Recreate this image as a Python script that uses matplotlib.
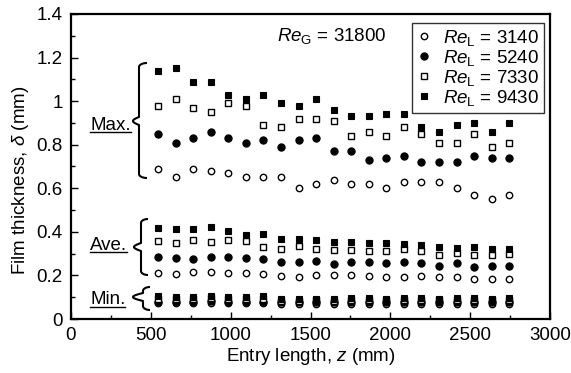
import numpy as np
import matplotlib
matplotlib.use("Agg")
import matplotlib.pyplot as plt
from matplotlib.ticker import MultipleLocator, FuncFormatter
from matplotlib.lines import Line2D

plt.rcParams['font.family'] = ['Liberation Sans', 'DejaVu Sans']
plt.rcParams['mathtext.fontset'] = 'custom'
plt.rcParams['mathtext.rm'] = 'Liberation Sans'
plt.rcParams['mathtext.it'] = 'Liberation Sans:italic'
plt.rcParams['mathtext.bf'] = 'Liberation Sans:bold'

FS = 13.5

# ---- data ----
z = [545, 655, 765, 875, 985, 1095, 1205, 1315, 1425, 1535, 1645,
     1755, 1865, 1975, 2085, 2195, 2305, 2415, 2525, 2635, 2745]

re_labels = ["3140", "5240", "7330", "9430"]

max_3140 = [0.69, 0.65, 0.69, 0.68, 0.67, 0.65, 0.65, 0.65, 0.60, 0.62, 0.64,
            0.62, 0.62, 0.60, 0.63, 0.63, 0.63, 0.60, 0.57, 0.55, 0.57]
max_5240 = [0.85, 0.81, 0.83, 0.86, 0.83, 0.81, 0.82, 0.79, 0.82, 0.83, 0.77,
            0.77, 0.73, 0.74, 0.75, 0.72, 0.72, 0.72, 0.75, 0.74, 0.74]
max_7330 = [0.98, 1.01, 0.97, 0.95, 0.99, 0.98, 0.89, 0.88, 0.92, 0.92, 0.91,
            0.84, 0.86, 0.84, 0.88, 0.85, 0.81, 0.81, 0.85, 0.79, 0.81]
max_9430 = [1.14, 1.15, 1.09, 1.09, 1.03, 1.01, 1.03, 0.99, 0.98, 1.01, 0.96,
            0.93, 0.93, 0.94, 0.94, 0.88, 0.86, 0.89, 0.90, 0.86, 0.90]

ave_3140 = [0.213, 0.205, 0.217, 0.216, 0.210, 0.210, 0.205, 0.197, 0.193, 0.202, 0.202,
            0.201, 0.197, 0.191, 0.194, 0.199, 0.191, 0.194, 0.184, 0.185, 0.185]
ave_5240 = [0.283, 0.279, 0.274, 0.285, 0.285, 0.279, 0.274, 0.263, 0.263, 0.266, 0.254,
            0.262, 0.262, 0.256, 0.262, 0.256, 0.245, 0.256, 0.237, 0.245, 0.245]
ave_7330 = [0.358, 0.347, 0.363, 0.352, 0.363, 0.359, 0.330, 0.320, 0.336, 0.320, 0.315,
            0.317, 0.312, 0.312, 0.321, 0.312, 0.294, 0.304, 0.294, 0.292, 0.298]
ave_9430 = [0.416, 0.413, 0.413, 0.424, 0.404, 0.386, 0.392, 0.367, 0.369, 0.363, 0.352,
            0.352, 0.347, 0.347, 0.344, 0.340, 0.332, 0.324, 0.329, 0.320, 0.323]

min_3140 = [0.072, 0.072, 0.072, 0.074, 0.072, 0.072, 0.072, 0.070, 0.070, 0.071, 0.070,
            0.071, 0.071, 0.070, 0.071, 0.070, 0.070, 0.071, 0.071, 0.070, 0.071]
min_5240 = [0.080, 0.080, 0.080, 0.082, 0.080, 0.080, 0.080, 0.077, 0.077, 0.078, 0.077,
            0.078, 0.078, 0.077, 0.078, 0.077, 0.077, 0.078, 0.078, 0.077, 0.078]
min_7330 = [0.092, 0.092, 0.092, 0.095, 0.090, 0.090, 0.092, 0.084, 0.084, 0.085, 0.083,
            0.088, 0.088, 0.085, 0.088, 0.085, 0.085, 0.088, 0.088, 0.085, 0.088]
min_9430 = [0.104, 0.103, 0.103, 0.107, 0.101, 0.101, 0.104, 0.092, 0.092, 0.093, 0.090,
            0.097, 0.097, 0.093, 0.097, 0.095, 0.093, 0.097, 0.097, 0.093, 0.098]

series = {
    "3140": (max_3140, ave_3140, min_3140),
    "5240": (max_5240, ave_5240, min_5240),
    "7330": (max_7330, ave_7330, min_7330),
    "9430": (max_9430, ave_9430, min_9430),
}

styles = {
    "3140": dict(marker='o', mfc='white', mec='black', ms=4.6, mew=1.0),
    "5240": dict(marker='o', mfc='black', mec='black', ms=5.2, mew=0.8),
    "7330": dict(marker='s', mfc='white', mec='black', ms=3.9, mew=1.0),
    "9430": dict(marker='s', mfc='black', mec='black', ms=4.0, mew=0.8),
}

fig = plt.figure(figsize=(5.71, 3.73), dpi=100)
ax = fig.add_axes([71/571, 1-319/373, 479/571, 305/373])

for key in re_labels:
    for vals in series[key]:
        ax.plot(z, vals, linestyle='none', **styles[key])

ax.set_xlim(0, 3000)
ax.set_ylim(0, 1.4)
ax.xaxis.set_major_locator(MultipleLocator(500))
ax.xaxis.set_minor_locator(MultipleLocator(250))
ax.yaxis.set_major_locator(MultipleLocator(0.2))
ax.yaxis.set_minor_locator(MultipleLocator(0.1))
ax.yaxis.set_major_formatter(FuncFormatter(lambda v, p: f"{v:g}"))
ax.tick_params(which='both', direction='in', width=1.0, labelsize=FS,
               top=False, right=False)
ax.tick_params(which='major', length=5, pad=6)
ax.tick_params(which='minor', length=3)
for s in ax.spines.values():
    s.set_linewidth(1.6)

ax.set_xlabel(r'Entry length, $z$ (mm)', fontsize=FS)
ax.set_ylabel(r'Film thickness, $\delta$ (mm)', fontsize=FS)
ax.xaxis.set_label_coords(0.5, -0.088)
ax.yaxis.set_label_coords(-0.083, 0.455)

ax.text(1290, 1.30, r'$\mathit{Re}_\mathrm{G}$ = 31800', fontsize=FS,
        ha='left', va='center')

handles = [Line2D([], [], linestyle='none', **styles[k]) for k in re_labels]
labels = [r'$\mathit{Re}_\mathrm{L}$ = ' + k for k in re_labels]
leg = ax.legend(handles, labels, loc='upper right', bbox_to_anchor=(0.987, 0.970),
                borderaxespad=0, fontsize=FS, frameon=True, fancybox=False,
                edgecolor='black', handlelength=0.8, handletextpad=0.6,
                labelspacing=0.0, borderpad=0.25)
leg.get_frame().set_linewidth(1.0)

# brace annotations (pixel-based geometry converted to axes fraction)
def px2ax(px, py):
    return (px - 71) / 479, (319 - py) / 305

def brace(ptop, pmid, pbot, xtip, xarm, xend):
    xs, ys = [], []
    t = np.linspace(0, 1, 20)
    xs += list(xend + (xarm - xend) * np.sin(t * np.pi / 2))
    ys += list(ptop + 4 * (1 - np.cos(t * np.pi / 2)))
    xs += [xarm, xarm]
    ys += [ptop + 4, pmid - 4]
    xs += list(xarm + (xtip - xarm) * np.sin(t * np.pi / 2))
    ys += list(pmid - 4 + 4 * t)
    xs += list(xtip + (xarm - xtip) * (1 - np.cos(t * np.pi / 2)))
    ys += list(pmid + 4 * t)
    xs += [xarm, xarm]
    ys += [pmid + 4, pbot - 4]
    xs += list(xarm + (xend - xarm) * (1 - np.cos(t * np.pi / 2)))
    ys += list(pbot - 4 + 4 * np.sin(t * np.pi / 2))
    pts = [px2ax(a, b) for a, b in zip(xs, ys)]
    ax.plot([p[0] for p in pts], [p[1] for p in pts], color='black', lw=1.5,
            transform=ax.transAxes, clip_on=False, solid_capstyle='butt')

def underlined(label, px_left, py_base, py_line):
    x0, y0 = px2ax(px_left, py_base)
    t = ax.text(x0, y0, label, fontsize=FS, ha='left', va='baseline',
                transform=ax.transAxes)
    fig.canvas.draw()
    bb = t.get_window_extent()
    w = bb.width / (479)
    xa, yl = px2ax(px_left, py_line)
    ax.plot([xa, xa + w], [yl, yl], color='black', lw=1.0, transform=ax.transAxes,
            clip_on=False)

brace(63, 121, 178, 133, 139, 147)
brace(219, 247, 275, 134, 141, 148)
brace(287, 297, 310, 133, 143, 150)
underlined('Max.', 90, 129.5, 131.5)
underlined('Ave.', 90, 249.5, 251.5)
underlined('Min.', 90, 304.5, 306.5)

fig.savefig('out.png', dpi=100)
